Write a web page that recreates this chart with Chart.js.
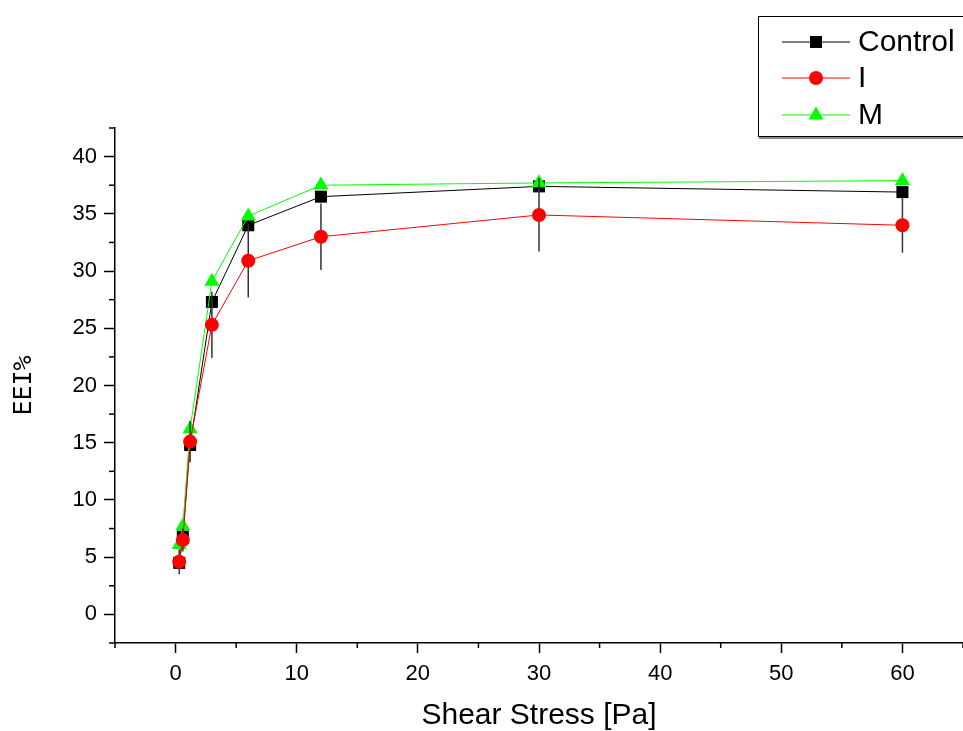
<!DOCTYPE html>
<html lang="en">
<head>
<meta charset="UTF-8">
<title>EEI% vs Shear Stress</title>
<script src="https://cdn.jsdelivr.net/npm/chart.js"></script>
<style>
  body { margin: 0; background: #fff; }
  #wrap { width: 963px; height: 731px; }
</style>
</head>
<body>
<div id="wrap"><canvas id="eeiChart" width="963" height="731"></canvas></div>
<script>
// values
var shearStress = [0.3, 0.6, 1.2, 3, 6, 12, 30, 60];
var controlEEI = [4.5, 6.8, 14.8, 27.3, 34.0, 36.5, 37.4, 36.9];
var iEEI = [4.6, 6.5, 15.1, 25.3, 30.9, 33.0, 34.9, 34.0];
var mEEI = [6.1, 7.7, 16.2, 29.1, 34.8, 37.5, 37.7, 37.9];
var iErr = [1.1, 1.0, 1.8, 2.9, 3.2, 2.9, 3.2, 2.4];
var xTickLabels = [0, 10, 20, 30, 40, 50, 60];
var yTickLabels = [0, 5, 10, 15, 20, 25, 30, 35, 40];

var FONT = "'Liberation Sans', Arial, sans-serif";

function toPoints(ys) {
  return shearStress.map(function (x, i) { return { x: x, y: ys[i] }; });
}

// error bars of series I, drawn just before its markers
var errorBars = {
  id: 'errorBars',
  beforeDatasetDraw: function (chart, args) {
    if (chart.data.datasets[args.index].label !== 'I') return;
    var ctx = chart.ctx, xs = chart.scales.x, ys = chart.scales.y;
    ctx.save();
    ctx.strokeStyle = '#333';
    ctx.lineWidth = 1.5;
    shearStress.forEach(function (x, i) {
      var px = xs.getPixelForValue(x);
      ctx.beginPath();
      ctx.moveTo(px, ys.getPixelForValue(iEEI[i] + iErr[i]));
      ctx.lineTo(px, ys.getPixelForValue(iEEI[i] - iErr[i]));
      ctx.stroke();
    });
    ctx.restore();
  }
};

// short minor ticks
var minorTicks = {
  id: 'minorTicks',
  afterDraw: function (chart) {
    var ctx = chart.ctx, xs = chart.scales.x, ys = chart.scales.y, area = chart.chartArea;
    ctx.save();
    ctx.strokeStyle = '#000';
    ctx.lineWidth = 1.5;
    xs.ticks.forEach(function (t) {
      if (xTickLabels.indexOf(t.value) >= 0) return;
      var px = xs.getPixelForValue(t.value);
      ctx.beginPath(); ctx.moveTo(px, area.bottom); ctx.lineTo(px, area.bottom + 5); ctx.stroke();
    });
    ys.ticks.forEach(function (t) {
      if (yTickLabels.indexOf(t.value) >= 0) return;
      var py = ys.getPixelForValue(t.value);
      ctx.beginPath(); ctx.moveTo(area.left, py); ctx.lineTo(area.left - 6, py); ctx.stroke();
    });
    ctx.restore();
  }
};

function drawMarker(ctx, style, x, y, color) {
  ctx.fillStyle = color;
  ctx.beginPath();
  if (style === 'rect') {
    ctx.rect(x - 6, y - 6, 12, 12);
  } else if (style === 'circle') {
    ctx.arc(x, y, 7, 0, Math.PI * 2);
  } else {
    ctx.moveTo(x, y - 8.5);
    ctx.lineTo(x + 7.5, y + 4.5);
    ctx.lineTo(x - 7.5, y + 4.5);
    ctx.closePath();
  }
  ctx.fill();
}

// boxed legend at top right
var boxLegend = {
  id: 'boxLegend',
  afterDraw: function (chart) {
    var ctx = chart.ctx;
    ctx.save();
    ctx.strokeStyle = '#888';
    ctx.lineWidth = 2;
    ctx.beginPath(); ctx.moveTo(759, 138); ctx.lineTo(970, 138); ctx.stroke();
    ctx.strokeStyle = '#000';
    ctx.lineWidth = 1;
    ctx.strokeRect(758.5, 16.5, 220, 120);
    ctx.font = '30px ' + FONT;
    ctx.textBaseline = 'middle';
    ctx.textAlign = 'left';
    var rows = [42, 78, 115];
    chart.data.datasets.slice().sort(function (a, b) { return a.legendRank - b.legendRank; })
      .forEach(function (ds, i) {
        var y = rows[i];
        ctx.strokeStyle = ds.borderColor;
        ctx.lineWidth = 1;
        ctx.beginPath(); ctx.moveTo(782, y); ctx.lineTo(850, y); ctx.stroke();
        drawMarker(ctx, ds.pointStyle, 816, y, ds.pointBackgroundColor);
        ctx.fillStyle = '#000';
        ctx.fillText(ds.label, 858, y + 1);
      });
    ctx.restore();
  }
};

new Chart(document.getElementById('eeiChart'), {
  type: 'line',
  data: {
    datasets: [{
      label: 'Control',
      legendRank: 0,
      order: 2,
      data: toPoints(controlEEI),
      borderColor: '#000000',
      borderWidth: 1,
      pointStyle: 'rect',
      pointRadius: 8.5,
      pointBackgroundColor: '#000000',
      pointBorderColor: '#000000',
      pointBorderWidth: 0
    }, {
      label: 'I',
      legendRank: 1,
      order: 0,
      data: toPoints(iEEI),
      borderColor: '#ff0000',
      borderWidth: 1,
      pointStyle: 'circle',
      pointRadius: 7,
      pointBackgroundColor: '#ff0000',
      pointBorderColor: '#ff0000',
      pointBorderWidth: 0
    }, {
      label: 'M',
      legendRank: 2,
      order: 1,
      data: toPoints(mEEI),
      borderColor: '#00ff00',
      borderWidth: 1,
      pointStyle: 'triangle',
      pointRadius: 8.7,
      pointBackgroundColor: '#00ff00',
      pointBorderColor: '#00ff00',
      pointBorderWidth: 0
    }]
  },
  options: {
    responsive: false,
    animation: false,
    layout: { autoPadding: false, padding: { top: 128, right: 0, bottom: 0, left: 0 } },
    plugins: {
      legend: { display: false },
      tooltip: { enabled: false }
    },
    scales: {
      x: {
        type: 'linear',
        min: -5,
        max: 65,
        afterFit: function (s) { s.height = 88; s.paddingLeft = 0; s.paddingRight = 0; },
        border: { display: true, color: '#000', width: 1.5 },
        grid: {
          drawOnChartArea: false,
          tickLength: 10,
          tickWidth: 1.5,
          tickColor: function (c) { return c.tick && xTickLabels.indexOf(c.tick.value) >= 0 ? '#000' : 'rgba(0,0,0,0)'; }
        },
        ticks: {
          stepSize: 5,
          autoSkip: false,
          maxRotation: 0,
          padding: 8,
          color: '#000',
          font: { family: FONT, size: 22 },
          callback: function (v) { return xTickLabels.indexOf(v) >= 0 ? String(v) : ''; }
        },
        title: {
          display: true,
          text: 'Shear Stress [Pa]',
          color: '#000',
          font: { family: FONT, size: 30, lineHeight: 1 },
          padding: { top: 0, bottom: 0 }
        }
      },
      y: {
        type: 'linear',
        min: -2.5,
        max: 42.5,
        afterFit: function (s) { s.width = 115; s.paddingTop = 0; s.paddingBottom = 0; },
        border: { display: true, color: '#000', width: 1.5 },
        grid: {
          drawOnChartArea: false,
          tickLength: 11,
          tickWidth: 1.5,
          tickColor: function (c) { return c.tick && yTickLabels.indexOf(c.tick.value) >= 0 ? '#000' : 'rgba(0,0,0,0)'; }
        },
        ticks: {
          stepSize: 2.5,
          autoSkip: false,
          padding: 7,
          color: '#000',
          font: { family: FONT, size: 22 },
          callback: function (v) { return yTickLabels.indexOf(v) >= 0 ? String(v) : ''; }
        },
        title: {
          display: true,
          text: 'EEI%',
          color: '#000',
          font: { family: "'DejaVu Sans Mono', monospace", size: 25, lineHeight: 1 },
          padding: { top: 12, bottom: 0 }
        }
      }
    }
  },
  plugins: [errorBars, minorTicks, boxLegend]
});
</script>
</body>
</html>
